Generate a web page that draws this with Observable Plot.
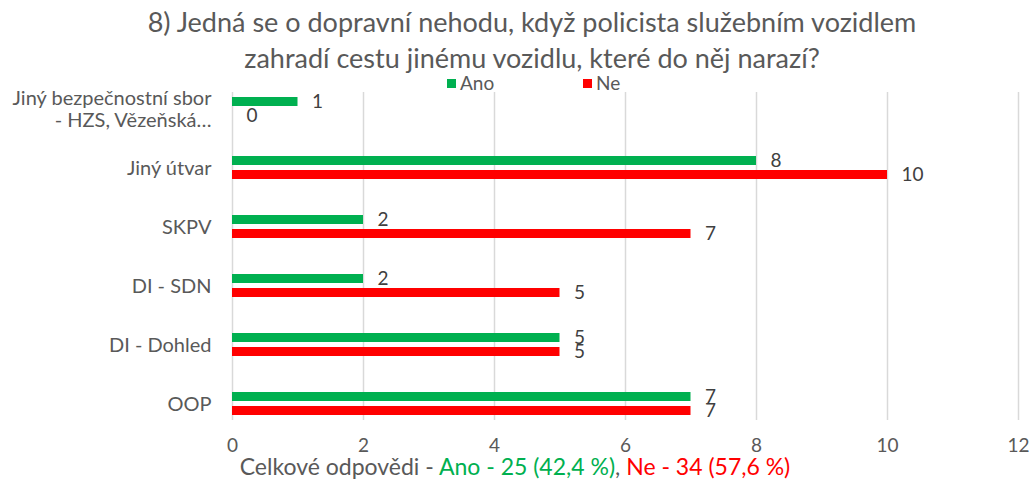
<!DOCTYPE html>
<html><head><meta charset="utf-8">
<script src="https://cdn.jsdelivr.net/npm/d3@7"></script>
<script src="https://cdn.jsdelivr.net/npm/@observablehq/plot@0.6"></script>
<style>
body{margin:0;background:#fff;font-family:Lato, "Open Sans", sans-serif;}
#wrap{position:relative;width:1030px;height:479px;overflow:hidden;}
#title{text-align:center;font-size:27px;line-height:36px;color:#595959;padding-top:4px;padding-left:34px;height:72px;}
.leg{position:absolute;top:72px;font-size:19px;color:#595959;display:flex;align-items:center;line-height:22px;}
.sw{width:9px;height:9px;margin-right:4px;display:inline-block;}
#caption{text-align:center;font-size:23px;line-height:23px;color:#595959;padding-top:2px;}
svg{overflow:visible;}
</style></head>
<body>
<div id="wrap">
  <div id="title">8) Jedná se o dopravní nehodu, když policista služebním vozidlem<br>zahradí cestu jinému vozidlu, které do něj narazí?</div>
  <div id="chart"></div>
  <div id="caption"></div>
</div>
<script>
const categories = ["Jiný bezpečnostní sbor - HZS, Vězeňská…", "Jiný útvar", "SKPV", "DI - SDN", "DI - Dohled", "OOP"];
const categoryLabels = ["Jiný bezpečnostní sbor\n- HZS, Vězeňská…", "Jiný útvar", "SKPV", "DI - SDN", "DI - Dohled", "OOP"];
const seriesNames = ["Ano", "Ne"];
const seriesColors = ["#00B050", "#FF0000"];
const ano = [1, 8, 2, 2, 5, 7];
const ne = [0, 10, 7, 5, 5, 7];
const xTicks = [0, 2, 4, 6, 8, 10, 12];
const captionParts = [
  {text: "Celkové odpovědi - ", color: "#595959"},
  {text: "Ano - 25 (42,4 %)", color: "#00B050"},
  {text: ", ", color: "#595959"},
  {text: "Ne - 34 (57,6 %)", color: "#FF0000"}
];

const anoRows = categories.map((c, i) => ({cat: c, value: ano[i]}));
const neRows = categories.map((c, i) => ({cat: c, value: ne[i]}));
const labelOf = new Map(categories.map((c, i) => [c, categoryLabels[i]]));

const chart = Plot.plot({
  width: 1030, height: 377,
  marginLeft: 232, marginRight: 12, marginTop: 1, marginBottom: 18,
  style: {fontFamily: "Lato, 'Open Sans', sans-serif", fontSize: "20px", color: "#595959", background: "transparent", overflow: "visible"},
  x: {domain: [0, 12]},
  y: {domain: categories, padding: 0},
  marks: [
    Plot.gridX(xTicks, {stroke: "#d9d9d9", strokeOpacity: 1, strokeWidth: 1.5, insetTop: 15, insetBottom: 15}),
    Plot.barX(anoRows, {x: "value", y: "cat", fill: seriesColors[0], insetTop: 18, insetBottom: 32}),
    Plot.barX(neRows, {x: "value", y: "cat", fill: seriesColors[1], insetTop: 32, insetBottom: 18}),
    Plot.text(anoRows, {x: "value", y: "cat", text: d => String(d.value), dx: 14, dy: -7, textAnchor: "start", fill: "#404040", fontSize: 19}),
    Plot.text(neRows, {x: "value", y: "cat", text: d => String(d.value), dx: 14, dy: 7, textAnchor: "start", fill: "#404040", fontSize: 19}),
    Plot.axisX(xTicks, {tickSize: 0, tickPadding: 3, fontSize: 19, fill: "#595959", label: null}),
    Plot.axisY({tickSize: 0, tickPadding: 21, tickFormat: d => labelOf.get(d), lineHeight: 1.1, fontSize: 20, fill: "#595959", label: null})
  ]
});
document.getElementById("chart").appendChild(chart);

const wrap = document.getElementById("wrap");
const legX = [447, 583];
seriesNames.forEach((s, i) => {
  const el = document.createElement("div");
  el.className = "leg";
  el.style.left = legX[i] + "px";
  el.innerHTML = `<span class="sw" style="background:${seriesColors[i]}"></span><span>${s}</span>`;
  wrap.appendChild(el);
});
const cap = document.getElementById("caption");
captionParts.forEach(p => {
  const sp = document.createElement("span");
  sp.textContent = p.text;
  sp.style.color = p.color;
  cap.appendChild(sp);
});
</script>
</body></html>
